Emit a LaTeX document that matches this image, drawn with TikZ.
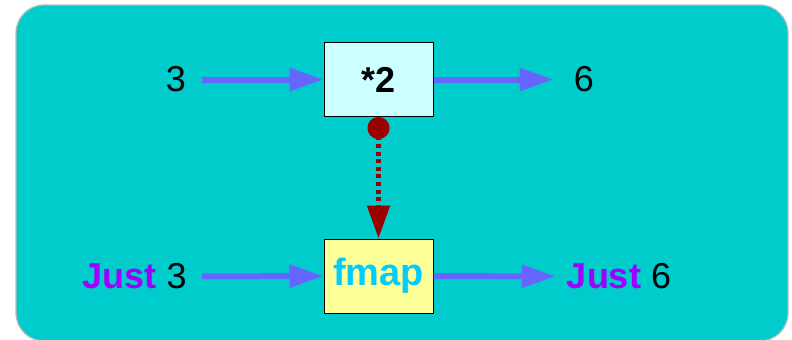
\documentclass[tikz,border=0pt]{standalone}
\usepackage{fontspec}
\setmainfont{Liberation Sans}
\usetikzlibrary{arrows.meta}
\definecolor{bgteal}{HTML}{00CCCC}
\definecolor{bgedge}{HTML}{BBBBBB}
\definecolor{arrowblue}{HTML}{6666FF}
\definecolor{boxcyan}{HTML}{CCFFFF}
\definecolor{boxyellow}{HTML}{FFFF99}
\definecolor{fmapblue}{HTML}{00CCFF}
\definecolor{justpurple}{HTML}{A000FF}
\definecolor{darkred}{HTML}{990000}
\tikzset{
  lbl/.style={inner sep=0pt, font=\fontsize{18}{22}\selectfont},
  funcbox/.style={draw=black, line width=0.5pt, minimum width=54.5pt, minimum height=37pt, inner sep=0pt, font=\fontsize{18}{22}\selectfont\bfseries},
  flow/.style={draw=arrowblue, line width=3pt, -{Triangle[length=17pt,width=11pt]}},
  lift/.style={draw=darkred, line width=2.6pt, dash pattern=on 2pt off 1.8pt,
    {Circle[length=11pt,width=11pt,fill=darkred]}-{Triangle[length=16.5pt,width=11pt]}, darkred},
}
\begin{document}
\begin{tikzpicture}[x=0.5pt,y=-0.5pt]
\useasboundingbox (0,0) rectangle (792,339);
\begin{scope}
\clip (0,0) rectangle (792,339);
\draw[fill=bgteal, draw=bgedge, line width=0.6pt, rounded corners=14pt] (16,5) rectangle (788,341);
\end{scope}
\node[funcbox, fill=boxcyan] (f1) at (378.5,79.5) {*2};
\node[funcbox, fill=boxyellow, text=fmapblue, font=\fontsize{19}{22}\selectfont\bfseries] (g1) at (378.5,276) {fmap};
\node[lbl] (in1) at (176,79.5) {3};
\node[lbl] (out1) at (584,79.5) {6};
\node[lbl] (in2) at (134.5,276.5) {\textcolor{justpurple}{\bfseries Just} 3};
\node[lbl] (out2) at (619,276.5) {\textcolor{justpurple}{\bfseries Just} 6};
\draw[flow, shorten <=8pt] (in1) -- (f1);
\draw[flow, shorten >=10pt] (f1) -- (out1);
\draw[flow, shorten <=7.5pt] (in2) -- (g1);
\draw[flow, shorten >=5.5pt] (g1) -- (out2);
\draw[lift] (f1.south) -- (g1.north);
\end{tikzpicture}
\end{document}
